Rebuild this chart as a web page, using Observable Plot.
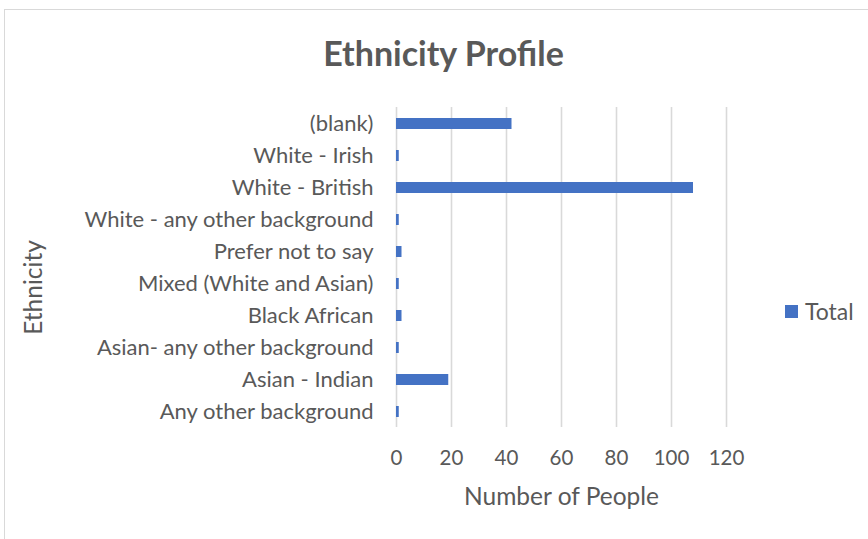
<!DOCTYPE html>
<html>
<head>
<meta charset="utf-8">
<script src="https://cdn.jsdelivr.net/npm/d3@7"></script>
<script src="https://cdn.jsdelivr.net/npm/@observablehq/plot@0.6"></script>
<style>
  html, body { margin: 0; padding: 0; background: #fff; }
  #wrap { position: relative; width: 868px; height: 539px; overflow: hidden; font-family: Lato, "Open Sans", sans-serif; }
  #frame { position: absolute; left: 4px; top: 9px; width: 900px; height: 600px; border: 1px solid #d9d9d9; box-sizing: border-box; }
  #chart { position: absolute; left: 0; top: 0; }
  #swatch { position: absolute; left: 785px; top: 305px; width: 13px; height: 13px; background: #4472C4; }
  #legendText { position: absolute; left: 805px; top: 300px; font-size: 23px; line-height: 23px; color: #595959; white-space: nowrap; }
</style>
</head>
<body>
<div id="wrap">
  <div id="frame"></div>
  <div id="chart"></div>
  <div id="swatch"></div>
  <div id="legendText">Total</div>
</div>
<script>
const categories = [
  "(blank)",
  "White - Irish",
  "White - British",
  "White - any other background",
  "Prefer not to say",
  "Mixed (White and Asian)",
  "Black African",
  "Asian- any other background",
  "Asian - Indian",
  "Any other background"
];
const totals = [42, 1, 108, 1, 2, 1, 2, 1, 19, 1];
const xTicks = [0, 20, 40, 60, 80, 100, 120];
const titleText = "Ethnicity Profile";
const xTitle = "Number of People";
const yTitle = "Ethnicity";

const data = categories.map((c, i) => ({category: c, total: totals[i]}));
const grey = "#595959";

const chart = Plot.plot({
  width: 868,
  height: 539,
  marginLeft: 396,
  marginRight: 142,
  marginTop: 107,
  marginBottom: 112,
  style: {fontFamily: "Lato, 'Open Sans', sans-serif", fontSize: "22px", color: grey, background: "transparent", overflow: "visible"},
  x: {domain: [0, 120], ticks: xTicks, label: null},
  y: {domain: categories, paddingInner: 0.66, paddingOuter: 0.33, label: null},
  marks: [
    Plot.ruleX(xTicks, {stroke: "#d9d9d9", strokeWidth: 1.6}),
    Plot.barX(data, {x: "total", y: "category", fill: "#4472C4"}),
    Plot.axisX({ticks: xTicks, tickSize: 0, tickPadding: 23, fontSize: 20.5, fill: grey, label: null}),
    Plot.axisY({tickSize: 0, tickPadding: 23, fontSize: 22, fill: grey, label: null}),
    Plot.text([xTitle], {frameAnchor: "bottom", lineAnchor: "middle", dy: 70, fontSize: 24.5, fill: grey}),
    Plot.text([yTitle], {frameAnchor: "left", textAnchor: "middle", lineAnchor: "middle", rotate: -90, dx: -362, dy: 20, fontSize: 24.5, fill: grey}),
    Plot.text([titleText], {frameAnchor: "top", lineAnchor: "middle", dx: -118, dy: -52, fontSize: 34, fontWeight: "bold", fill: grey})
  ]
});
document.getElementById("chart").appendChild(chart);
</script>
</body>
</html>
